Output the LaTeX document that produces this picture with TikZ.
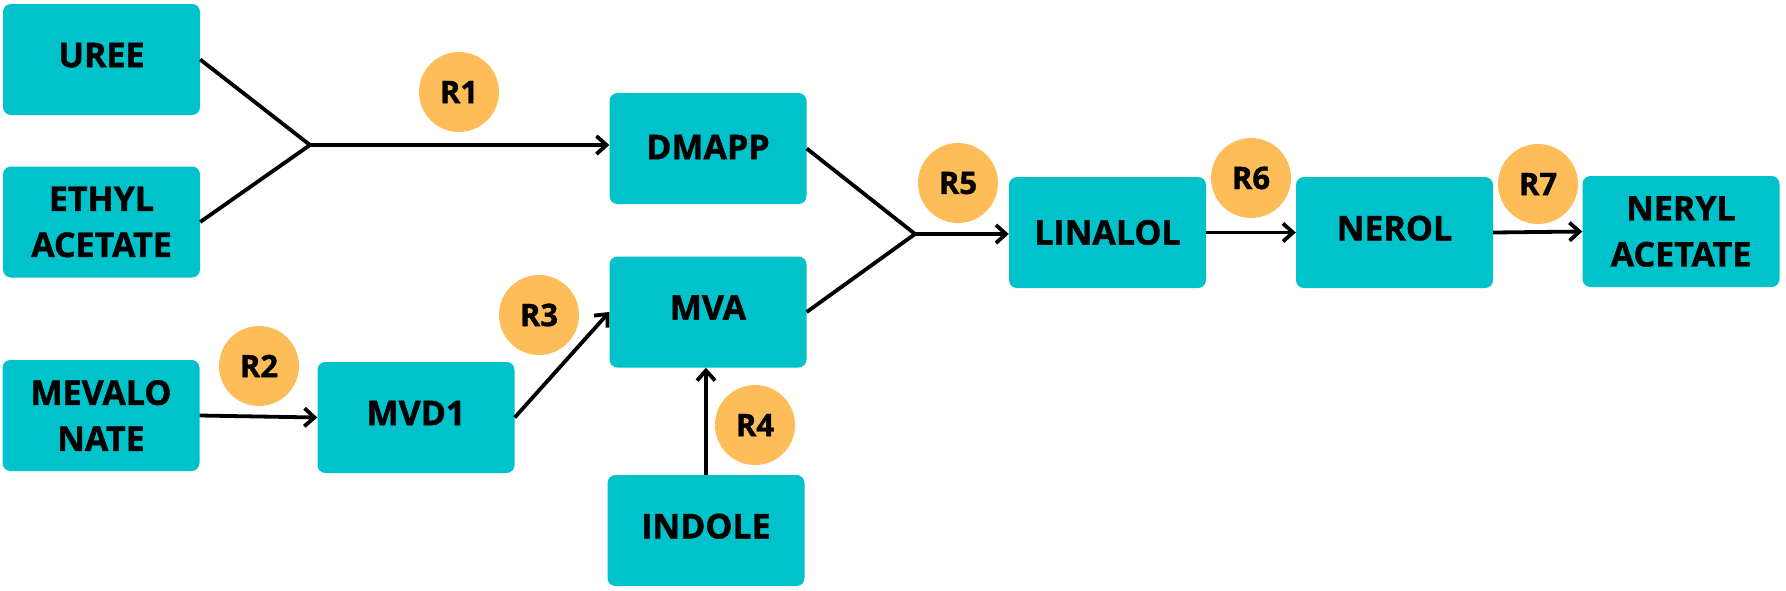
\documentclass[tikz,border=0pt]{standalone}
\usepackage{fontspec}
\setmainfont{Open Sans}[BoldFeatures={FakeBold=1.2}]
\usetikzlibrary{arrows.meta}
\definecolor{boxteal}{HTML}{00C2CB}
\definecolor{rorange}{HTML}{FFBD59}
\tikzset{
  box/.style={fill=boxteal, rounded corners=8pt, minimum width=197pt, minimum height=111pt,
    inner sep=0pt, align=center, font=\fontsize{34}{46}\selectfont\bfseries},
  up/.style={text depth=9pt},
  rcirc/.style={circle, fill=rorange, minimum size=80pt, inner sep=0pt,
    font=\fontsize{31}{36}\selectfont\bfseries},
  conn/.style={line width=3.8pt, black},
  arr/.style={conn, -{Straight Barb[length=10pt,width=18pt,line width=3.8pt]}}
}
\begin{document}
\begin{tikzpicture}[x=1pt,y=-1pt]
\useasboundingbox (0,0) rectangle (1786,590);
% boxes
\node[box,up] (uree) at (101.5,59.5) {UREE};
\node[box] (ethyl) at (101.5,222) {ETHYL\\ACETATE};
\node[box] (mevalo) at (101,415.5) {MEVALO\\NATE};
\node[box,up] (mvd1) at (416,417.5) {MVD1};
\node[box,text depth=3pt] (dmapp) at (708,148.5) {DMAPP};
\node[box,up] (mva) at (708,312) {MVA};
\node[box,up] (indole) at (706,530.5) {INDOLE};
\node[box] (linalol) at (1107.5,232.5) {LINALOL};
\node[box,up] (nerol) at (1394.5,232.5) {NEROL};
\node[box] (neryl) at (1681,231.5) {NERYL\\ACETATE};
% reaction labels
\node[rcirc] (r1) at (459,92) {R1};
\node[rcirc] (r2) at (259,366) {R2};
\node[rcirc] (r3) at (539,315) {R3};
\node[rcirc] (r4) at (755,425) {R4};
\node[rcirc] (r5) at (958,183) {R5};
\node[rcirc] (r6) at (1251,178) {R6};
\node[rcirc] (r7) at (1538,184) {R7};
% junctions
\coordinate (j1) at (310,145);
\coordinate (j2) at (915,234);
% connectors
\draw[conn] (uree.east) -- (j1);
\draw[conn] (ethyl.east) -- (j1);
\draw[arr] (j1) -- (j1 -| dmapp.west);
\draw[conn] (dmapp.east) -- (j2);
\draw[conn] (mva.east) -- (j2);
\draw[arr] (j2) -- (j2 -| linalol.west);
\draw[arr] (mevalo.east) -- (mvd1.west);
\draw[arr] (mvd1.east) -- (mva.west);
\draw[arr] (indole.north) -- (indole.north |- mva.south);
\draw[arr] (linalol.east) -- (nerol.west);
\draw[arr] (nerol.east) -- (neryl.west);
\end{tikzpicture}
\end{document}
